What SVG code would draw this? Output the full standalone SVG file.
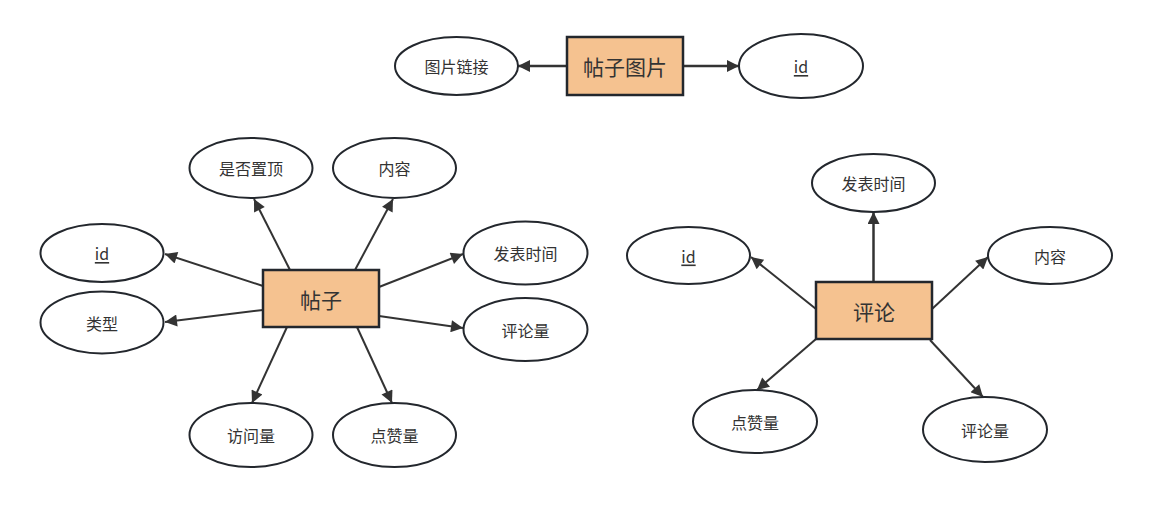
<svg xmlns="http://www.w3.org/2000/svg" width="1160" height="527" viewBox="0 0 1160 527">
<defs>
<marker id="arrw" viewBox="0 0 10 10" refX="10" refY="5" markerWidth="16" markerHeight="12" markerUnits="userSpaceOnUse" orient="auto">
<path d="M0,0 L10,5 L0,10 Z" fill="#333333"/>
</marker>
<style>
.ent rect{fill:#F5C290;stroke:#23272D;stroke-width:2.5}
.ent text{font-family:"Noto Sans CJK SC","Liberation Sans",sans-serif;font-size:21px;fill:#333333;text-anchor:middle;dominant-baseline:central}
.att ellipse{fill:#FFFFFF;stroke:#23272D;stroke-width:2}
.att text{font-family:"Noto Sans CJK SC","Liberation Sans",sans-serif;font-size:16px;fill:#333333;text-anchor:middle;dominant-baseline:central}
.att text.key{text-decoration:underline}
#connectors line{stroke:#333333;stroke-width:2;marker-end:url(#arrw)}
#connectors line.top{stroke-width:2.5}
</style>
</defs>
<rect width="1160" height="527" fill="#FFFFFF"/>
<g id="connectors">
<line class="top" x1="567" y1="66" x2="518" y2="66"/>
<line class="top" x1="683" y1="66" x2="739" y2="66"/>
<line x1="290" y1="270" x2="254" y2="199"/>
<line x1="355" y1="270" x2="393" y2="199"/>
<line x1="263" y1="286" x2="165" y2="254"/>
<line x1="263" y1="310" x2="165" y2="322"/>
<line x1="379" y1="287" x2="463" y2="254"/>
<line x1="379" y1="316" x2="463" y2="328"/>
<line x1="287" y1="327" x2="252" y2="403"/>
<line x1="357" y1="327" x2="392" y2="403"/>
<line class="top" x1="873.5" y1="282" x2="873.5" y2="212"/>
<line x1="816" y1="309" x2="751" y2="257"/>
<line x1="932" y1="309" x2="988" y2="257"/>
<line x1="816" y1="339" x2="757" y2="390"/>
<line x1="930" y1="340" x2="983" y2="397"/>
</g>
<g id="tiezi-tupian" class="ent"><rect x="567" y="37" width="116" height="58"/><text x="625" y="66">帖子图片</text></g>
<g id="tupian-lianjie" class="att"><ellipse cx="456.5" cy="66" rx="61.5" ry="29"/><text x="456.5" y="66">图片链接</text></g>
<g id="tupian-id" class="att"><ellipse cx="801" cy="66" rx="62" ry="32"/><text class="key" x="801" y="66">id</text></g>

<g id="tiezi" class="ent"><rect x="263" y="270" width="116" height="57"/><text x="321" y="298.5">帖子</text></g>
<g id="tiezi-zhiding" class="att"><ellipse cx="251" cy="168" rx="61.5" ry="30"/><text x="251" y="168">是否置顶</text></g>
<g id="tiezi-neirong" class="att"><ellipse cx="394.5" cy="168" rx="61.5" ry="30"/><text x="394.5" y="168">内容</text></g>
<g id="tiezi-id" class="att"><ellipse cx="102" cy="253" rx="61.5" ry="29"/><text class="key" x="102" y="253">id</text></g>
<g id="tiezi-leixing" class="att"><ellipse cx="102" cy="322.5" rx="61.5" ry="31"/><text x="102" y="322.5">类型</text></g>
<g id="tiezi-fabiao" class="att"><ellipse cx="525.5" cy="253" rx="62" ry="31.5"/><text x="525.5" y="253">发表时间</text></g>
<g id="tiezi-pinglunliang" class="att"><ellipse cx="525.5" cy="329.5" rx="62" ry="31.5"/><text x="525.5" y="329.5">评论量</text></g>
<g id="tiezi-fangwen" class="att"><ellipse cx="251" cy="435" rx="61.5" ry="32"/><text x="251" y="435">访问量</text></g>
<g id="tiezi-dianzan" class="att"><ellipse cx="394.5" cy="435" rx="61.5" ry="32"/><text x="394.5" y="435">点赞量</text></g>

<g id="pinglun" class="ent"><rect x="816" y="282" width="116" height="57"/><text x="874" y="310.5">评论</text></g>
<g id="pinglun-fabiao" class="att"><ellipse cx="873.5" cy="183" rx="61.5" ry="29"/><text x="873.5" y="183">发表时间</text></g>
<g id="pinglun-id" class="att"><ellipse cx="688.5" cy="255.5" rx="61.5" ry="28.5"/><text class="key" x="688.5" y="255.5">id</text></g>
<g id="pinglun-neirong" class="att"><ellipse cx="1050" cy="255.5" rx="62" ry="28.5"/><text x="1050" y="255.5">内容</text></g>
<g id="pinglun-dianzan" class="att"><ellipse cx="755" cy="421.5" rx="62" ry="31.5"/><text x="755" y="421.5">点赞量</text></g>
<g id="pinglun-pinglunliang" class="att"><ellipse cx="985" cy="429.5" rx="62" ry="32.5"/><text x="985" y="429.5">评论量</text></g>
</svg>
